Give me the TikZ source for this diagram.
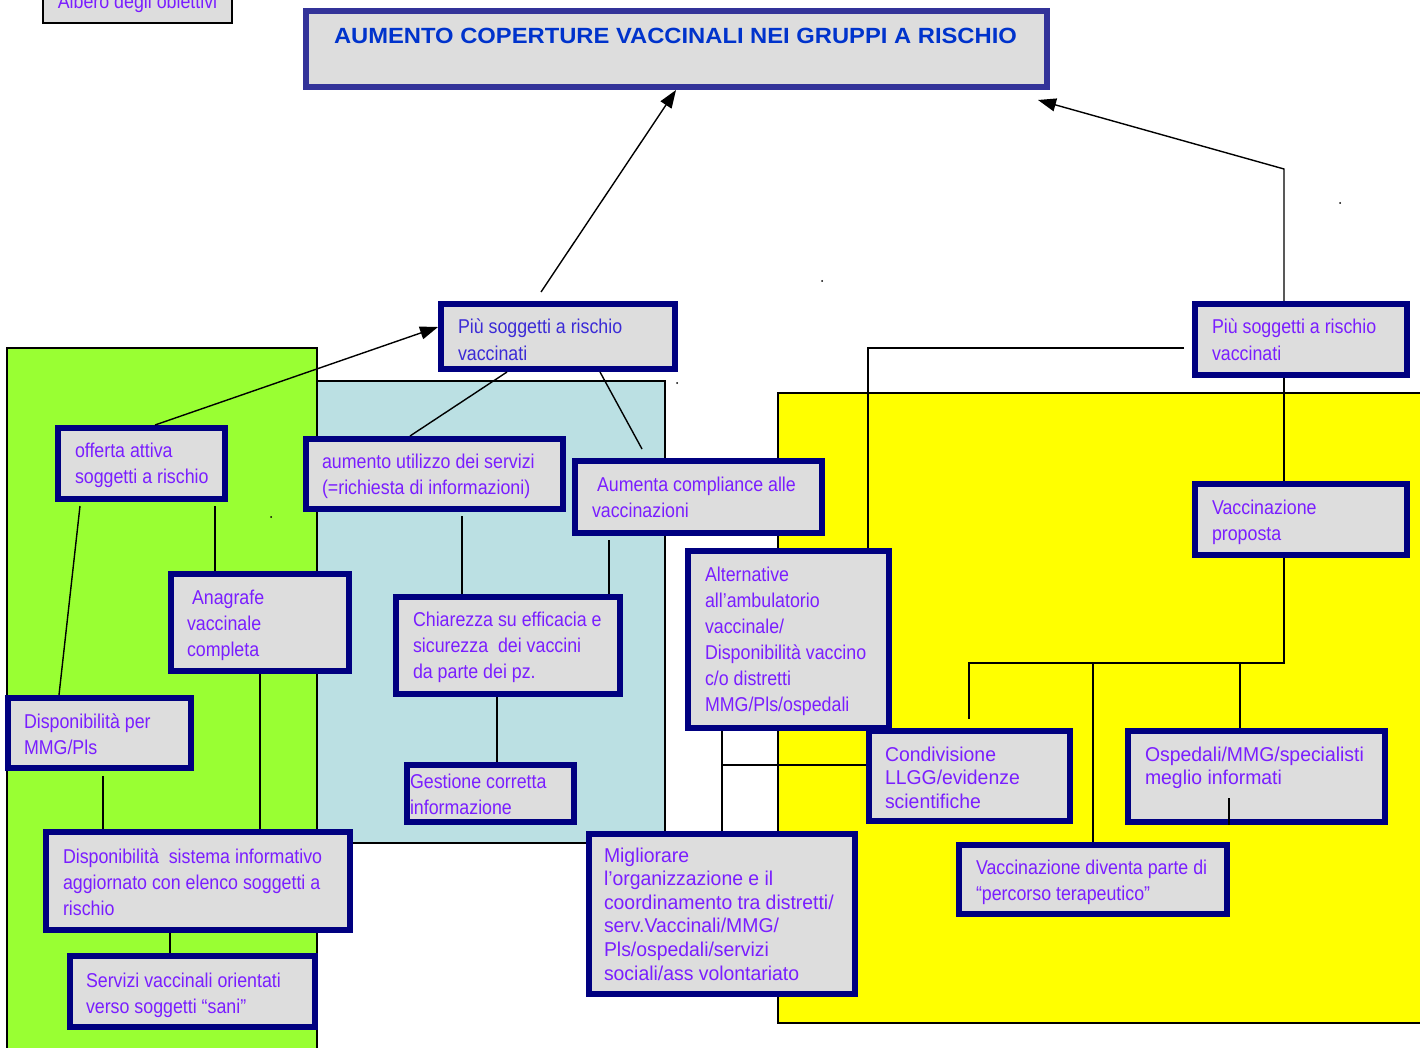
\documentclass[tikz,border=0pt]{standalone}
\usepackage{fontspec}
\setmainfont{Liberation Sans}
\newfontfamily\narf[FakeStretch=0.89]{Liberation Sans}
\newfontfamily\regf[FakeStretch=0.97]{Liberation Sans}
\newfontfamily\ttlf[FakeStretch=1.08]{Liberation Sans}
\usetikzlibrary{arrows.meta}
\definecolor{navy}{HTML}{000080}
\definecolor{ttlborder}{HTML}{333399}
\definecolor{boxgray}{HTML}{DDDDDD}
\definecolor{vio}{RGB}{122,30,255}
\definecolor{pblue}{HTML}{3B2BD6}
\definecolor{ttlblue}{HTML}{0033CC}
\definecolor{lgreen}{HTML}{99FF33}
\definecolor{lblue}{HTML}{BBE0E3}
\definecolor{yel}{HTML}{FFFF00}
\newcommand\bx[6][]{\node[bxs,#1,minimum width={#5-#3-6},minimum height={#6-#4-6}] (#2) at ({(#3+#5)/2},{(#4+#6)/2}) {};}
\newcommand\tln[1]{\hbox{#1}}
\begin{document}
\begin{tikzpicture}[x=1pt,y=-1pt,
  bxs/.style={rectangle, draw=navy, line width=6pt, fill=boxgray, inner sep=0pt, outer sep=3pt},
  txt/.style={anchor=base west, inner sep=0pt, outer sep=0pt, text=vio},
  nar/.style={font=\narf\fontsize{20}{26}\selectfont},
  reg/.style={font=\regf\fontsize{20}{23.6}\selectfont},
  ln/.style={draw=black, line width=1.4pt},
  arr/.style={ln, -{Triangle[length=18pt,width=13pt]}},
  region/.style={draw=black, line width=1.2pt}]
\useasboundingbox (0,0) rectangle (1420,1048);
% background regions
\filldraw[region, fill=lgreen] (7,1070) -- (7,348) -- (317,348) -- (317,1070);
\filldraw[region, fill=lblue] (317,381) rectangle (665,843);
\filldraw[region, fill=yel] (778,393) rectangle (1440,1023);
% stray dots
\fill (822,281) circle (1);
\fill (1340,203) circle (1);
\fill (271,517) circle (1);
\fill (677,383) circle (1);
% helper coordinates
\foreach \v in {59,80,103,155,170,215,260,410,462,497,507,541,600,609,642,676,722,868,969,1038,1093,1229,1240,1284}
  {\coordinate (x\v) at (\v,0);}
\foreach \v in {327,348,663,765}
  {\coordinate (y\v) at (0,\v);}
% top-left label box
\node[draw=black, line width=1.2pt, fill=boxgray, minimum width=189, minimum height=60, inner sep=0pt] (alb) at (137.5,-7) {};
\node[anchor=base, inner sep=0pt, text=vio, nar] (talb) at (137.5,9) {Albero degli obiettivi};
% boxes
\bx[draw=ttlborder]{title}{303}{8}{1050}{90}
\bx{p1}{438}{301}{678}{372}
\bx{p2}{1192}{301}{1410}{378}
\bx{off}{55}{425}{228}{502}
\bx{aum}{303}{436}{566}{512}
\bx{comp}{572}{458}{825}{536}
\bx{ana}{168}{571}{352}{674}
\bx{chi}{393}{594}{623}{697}
\bx{alt}{685}{548}{892}{731}
\bx{dpe}{5}{695}{194}{771}
\bx{ges}{404}{762}{577}{825}
\bx{con}{866}{728}{1073}{824}
\bx{osp}{1125}{728}{1388}{825}
\bx{vpr}{1192}{481}{1410}{558}
\bx{dsi}{43}{829}{353}{933}
\bx{ser}{67}{953}{318}{1030}
\bx{mig}{586}{831}{858}{997}
\bx{vdi}{956}{842}{1230}{917}
% connectors
\draw[arr] ([yshift=9pt]p1.north -| x541) -- (title.south -| x676);
\draw[arr] (p2.north -| x1284) -- ++(0,-132) -- ([yshift=-10pt]title.south -| x1038);
\draw[arr] (off.north -| x155) -- (p1.west |- y327);
\draw[ln] (aum.north -| x410) -- (p1.south -| x507);
\draw[ln] (p1.south -| x600) -- ([yshift=9pt]comp.north -| x642);
\draw[ln] ([xshift=-8pt]p2.west |- y348) -| (alt.north -| x868);
\draw[ln] (p2.south -| x1284) -- (vpr.north -| x1284);
\draw[ln] (vpr.south -| x1284) -- (x1284 |- y663) -- (x969 |- y663) -- ([yshift=9pt]con.north -| x969);
\draw[ln] (x1093 |- y663) -- (vdi.north -| x1093);
\draw[ln] (x1240 |- y663) -- (osp.north -| x1240);
\draw[ln] (osp.south -| x1229) -- ++(0,-27);
\draw[ln] ([yshift=-4pt]comp.south -| x609) -- (chi.north -| x609);
\draw[ln] ([yshift=-4pt]aum.south -| x462) -- (chi.north -| x462);
\draw[ln] (chi.south -| x497) -- (ges.north -| x497);
\draw[ln] (alt.south -| x722) -- (mig.north -| x722);
\draw[ln] (x722 |- y765) -- (con.west |- y765);
\draw[ln] ([yshift=-4pt]off.south -| x80) -- (dpe.north -| x59);
\draw[ln] ([yshift=-4pt]off.south -| x215) -- (ana.north -| x215);
\draw[ln] (ana.south -| x260) -- (dsi.north -| x260);
\draw[ln] ([yshift=-5pt]dpe.south -| x103) -- (dsi.north -| x103);
\draw[ln] (dsi.south -| x170) -- (ser.north -| x170);
% texts
\node[txt, text=ttlblue, font=\ttlf\bfseries\fontsize{22}{26}\selectfont] (ttitle) at (334,44) {AUMENTO COPERTURE VACCINALI NEI GRUPPI A RISCHIO};
\node[txt, nar, text=pblue] (tp1) at (458,334) {\vtop{\tln{Più soggetti a rischio}\tln{vaccinati}}};
\node[txt, nar] (tp2) at (1212,334) {\vtop{\tln{Più soggetti a rischio}\tln{vaccinati}}};
\node[txt, nar] (toff) at (75,457) {\vtop{\tln{offerta attiva}\tln{soggetti a rischio}}};
\node[txt, nar] (taum) at (322,468) {\vtop{\tln{aumento utilizzo dei servizi}\tln{(=richiesta di informazioni)}}};
\node[txt, nar] (tcomp) at (592,491) {\vtop{\tln{\hspace{5pt}Aumenta compliance alle}\tln{vaccinazioni}}};
\node[txt, nar] (tana) at (187,604) {\vtop{\tln{\hspace{5pt}Anagrafe}\tln{vaccinale}\tln{completa}}};
\node[txt, nar] (tchi) at (413,626) {\vtop{\tln{Chiarezza su efficacia e}\tln{sicurezza\ \ dei vaccini}\tln{da parte dei pz.}}};
\node[txt, nar] (talt) at (705,581) {\vtop{\tln{Alternative}\tln{all’ambulatorio}\tln{vaccinale/}\tln{Disponibilità vaccino}\tln{c/o distretti}\tln{MMG/Pls/ospedali}}};
\node[txt, nar] (tdpe) at (24,728) {\vtop{\tln{Disponibilità per}\tln{MMG/Pls}}};
\node[txt, nar] (tges) at (410,788) {\vtop{\tln{Gestione corretta}\tln{informazione}}};
\node[txt, reg] (tcon) at (885,761) {\vtop{\tln{Condivisione}\tln{LLGG/evidenze}\tln{scientifiche}}};
\node[txt, reg] (tosp) at (1145,761) {\vtop{\tln{Ospedali/MMG/specialisti}\tln{meglio informati}}};
\node[txt, nar] (tvpr) at (1212,514) {\vtop{\tln{Vaccinazione}\tln{proposta}}};
\node[txt, nar] (tdsi) at (63,863) {\vtop{\tln{Disponibilità\ \ sistema informativo}\tln{aggiornato con elenco soggetti a}\tln{rischio}}};
\node[txt, nar] (tser) at (86,987) {\vtop{\tln{Servizi vaccinali orientati}\tln{verso soggetti “sani”}}};
\node[txt, reg] (tmig) at (604,862) {\vtop{\tln{Migliorare}\tln{l’organizzazione e il}\tln{coordinamento tra distretti/}\tln{serv.Vaccinali/MMG/}\tln{Pls/ospedali/servizi}\tln{sociali/ass volontariato}}};
\node[txt, nar] (tvdi) at (976,874) {\vtop{\tln{Vaccinazione diventa parte di}\tln{“percorso terapeutico”}}};
\end{tikzpicture}
\end{document}
